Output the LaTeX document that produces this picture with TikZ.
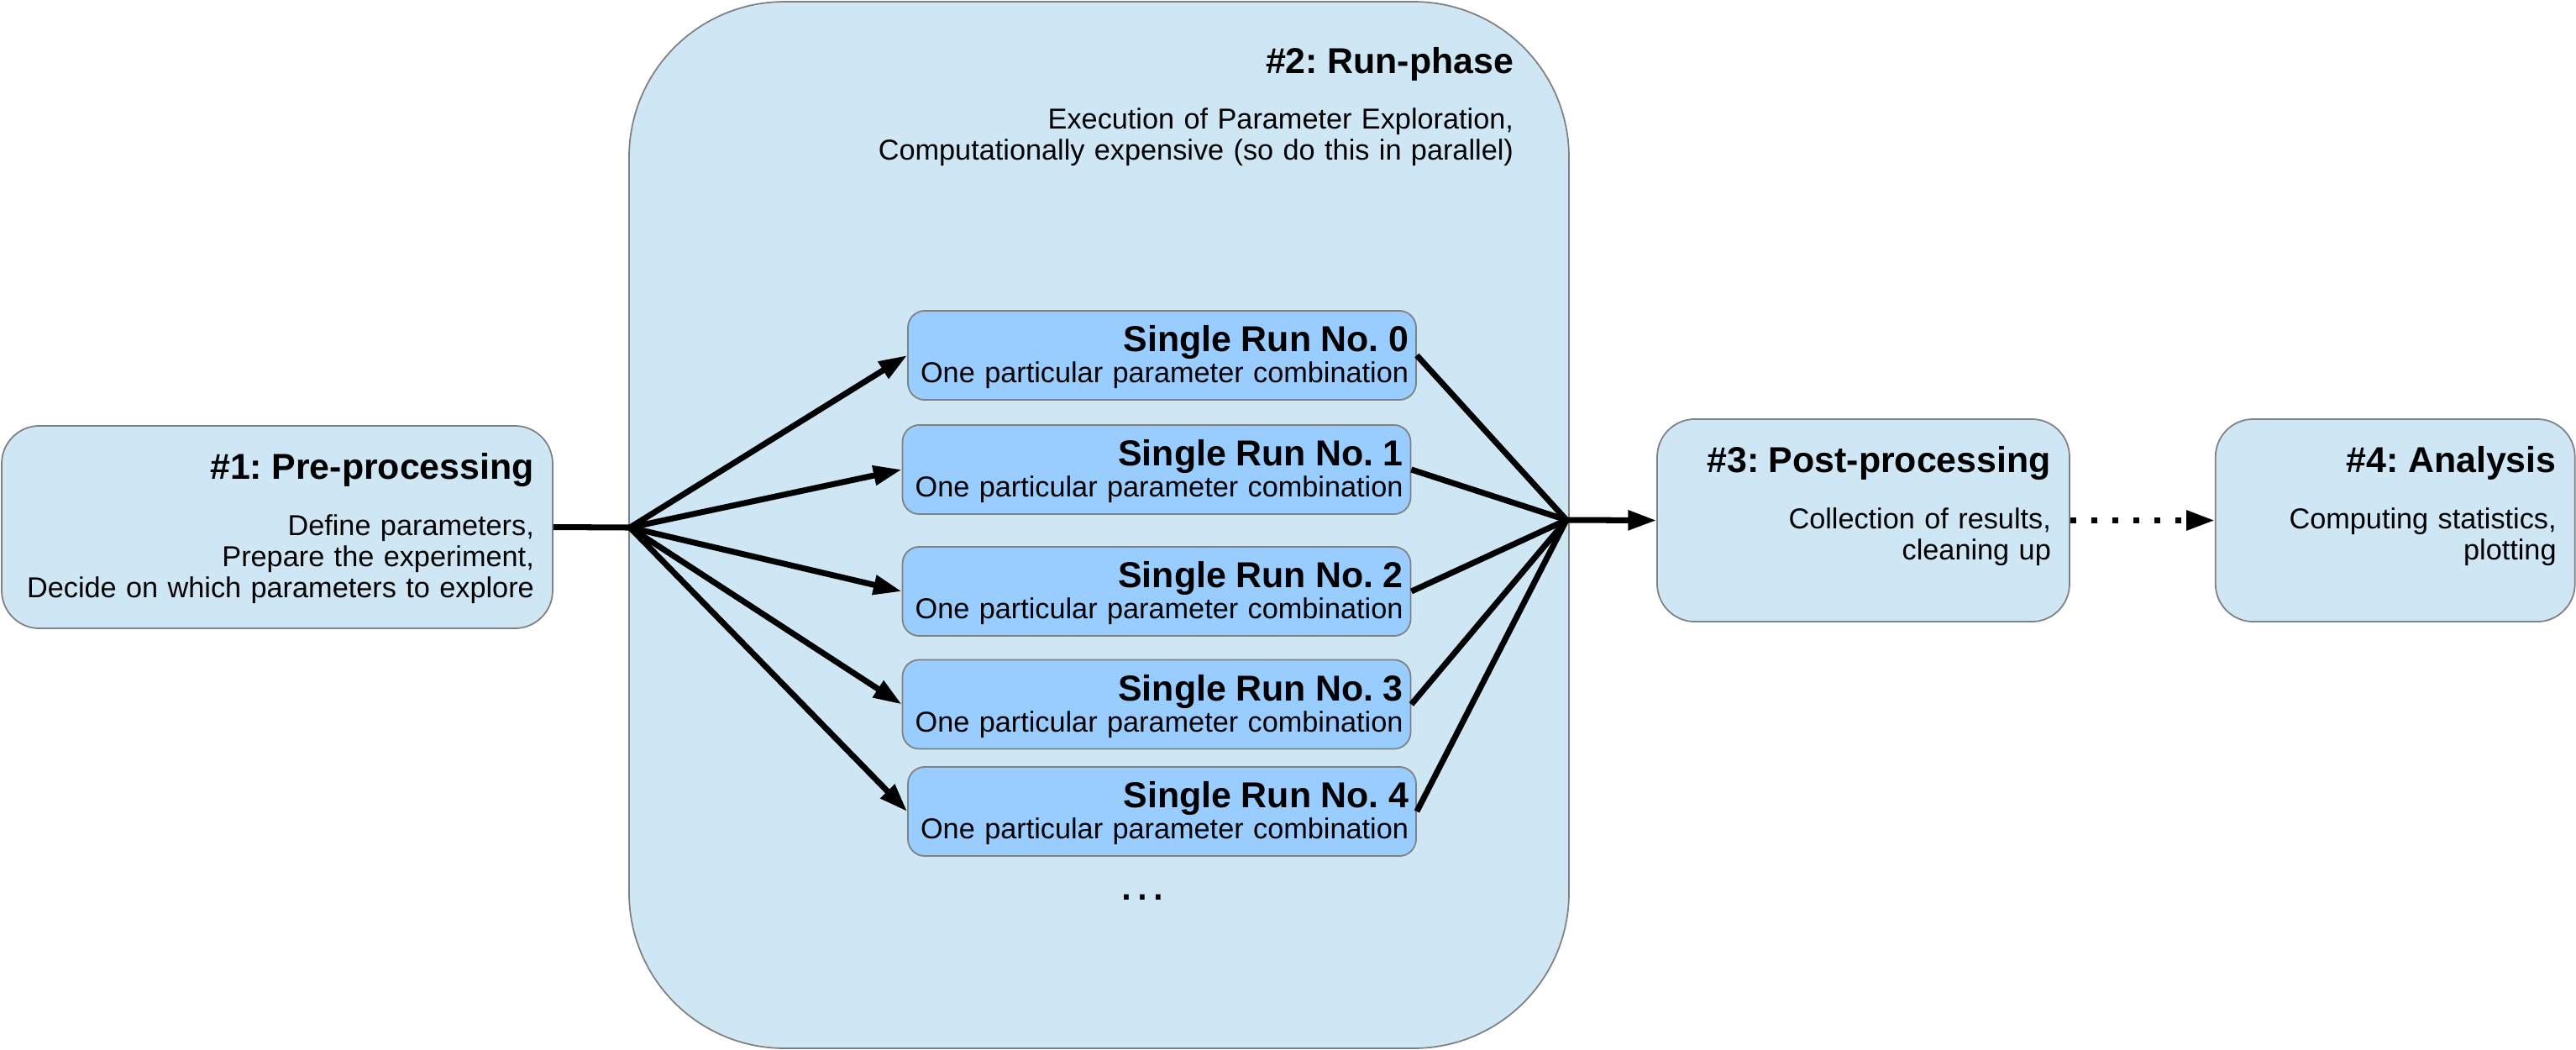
\documentclass[tikz,border=0pt]{standalone}
\usepackage{fontspec}
\setmainfont{Liberation Sans}
\usepackage{tikz}
\usetikzlibrary{arrows.meta, positioning}
\definecolor{phasefill}{RGB}{207,231,245}
\definecolor{runfill}{RGB}{153,204,255}
\definecolor{edgegray}{RGB}{128,128,128}
\newcommand{\bodysize}{\fontsize{9.75}{10.53}\selectfont\frenchspacing}
\newcommand{\headsize}{\bfseries\fontsize{12.2}{14}\selectfont}
\tikzset{
  basebox/.style={rectangle,draw=edgegray,line width=0.5pt,align=right,font=\bodysize,inner ysep=0pt},
  phasebox/.style={basebox,fill=phasefill,rounded corners=0.45cm,inner xsep=6.3pt,text height=18.2pt,text depth=50.4pt},
  containerbox/.style={basebox,fill=phasefill,rounded corners=1.85cm,inner xsep=0.66cm,text width=9.87cm,text height=24.2pt,text depth=330.3pt},
  runbox/.style={basebox,fill=runfill,rounded corners=0.2cm,inner xsep=0.09cm,text width=5.87cm,text height=13.9pt,text depth=16.3pt},
  link/.style={line width=2pt,color=black},
  arr/.style={link,->,>={Triangle[length=9.6pt,width=6.4pt]}},
  dotarr/.style={arr,dash pattern=on 2.1pt off 5pt}
}

\begin{document}
\begin{tikzpicture}[node distance=1.72cm]
  \useasboundingbox (0,0) rectangle (30.67,-12.49);

  %% Run-phase container
  \node[containerbox] (runphase) at (13.085,-6.25)
    {{\headsize \#2: Run-phase}\\[8.5pt]Execution of Parameter Exploration,\\Computationally expensive (so do this in parallel)};

  %% Pre-processing
  \node[phasebox,text width=6.117cm] (pre) at (3.30,-6.275)
    {{\headsize \#1: Pre-processing}\\[8.5pt]Define parameters,\\Prepare the experiment,\\Decide on which parameters to explore};

  %% Single runs
  \node[runbox] (run0) at (13.835,-4.23) {{\headsize Single Run No. 0}\\One particular parameter combination};
  \node[runbox] (run1) at (13.77,-5.59) {{\headsize Single Run No. 1}\\One particular parameter combination};
  \node[runbox] (run2) at (13.77,-7.04) {{\headsize Single Run No. 2}\\One particular parameter combination};
  \node[runbox] (run3) at (13.77,-8.385) {{\headsize Single Run No. 3}\\One particular parameter combination};
  \node[runbox] (run4) at (13.835,-9.66) {{\headsize Single Run No. 4}\\One particular parameter combination};
  \node[font=\fontsize{17}{20}\selectfont] (more) at (13.60,-10.68) {\ldots};

  %% Post-processing and analysis
  \node[phasebox,text width=4.467cm] (post) at (22.185,-6.195)
    {{\headsize \#3: Post-processing}\\[8.5pt]Collection of results,\\cleaning up};
  \node[phasebox,text width=3.837cm,right=of post] (ana)
    {{\headsize \#4: Analysis}\\[8.5pt]Computing statistics,\\plotting};

  %% Fan out / fan in
  \coordinate (fanin) at (7.50,-6.28);
  \coordinate (fanout) at (18.65,-6.19);

  \draw[link] (pre.east) -- (fanin);
  \draw[arr] (fanin) -- (run0.west);
  \draw[arr] (fanin) -- (run1.west);
  \draw[arr] (fanin) -- (run2.west);
  \draw[arr] (fanin) -- (run3.west);
  \draw[arr] (fanin) -- (run4.west);
  \draw[link] (run0.east) -- (fanout);
  \draw[link] (run1.east) -- (fanout);
  \draw[link] (run2.east) -- (fanout);
  \draw[link] (run3.east) -- (fanout);
  \draw[link] (run4.east) -- (fanout);
  \draw[arr] (fanout) -- (post.west);
  \draw[dotarr] (post.east) -- (ana.west);
\end{tikzpicture}
\end{document}
